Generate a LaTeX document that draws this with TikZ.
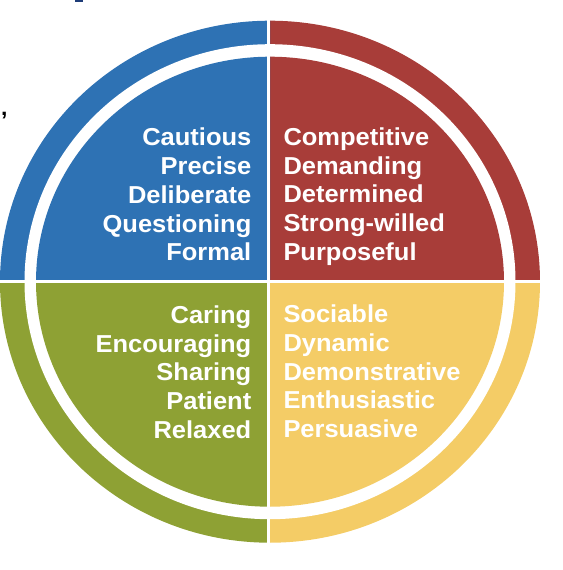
\documentclass[tikz,border=0pt]{standalone}
\usepackage{fontspec}
\setmainfont[FakeStretch=1.04]{Liberation Sans}
\usetikzlibrary{positioning}
\definecolor{qblue}{RGB}{46,114,180}
\definecolor{qred}{RGB}{168,61,57}
\definecolor{qgreen}{RGB}{142,161,52}
\definecolor{qyellow}{RGB}{244,204,102}
\definecolor{qnavy}{RGB}{30,60,120}
\newcommand{\qsector}[5]{%
  \fill[#1] (c) -- ++(#2:#4 and #5)
    arc[start angle=#2,end angle=#3,x radius=#4,y radius=#5] -- cycle;}
\tikzset{
  trait/.style={text=white,font=\fontsize{24.5}{28.75}\selectfont\bfseries,
                inner sep=0pt},
  traitl/.style={trait,align=right,anchor=base east},
  traitr/.style={trait,align=left,anchor=base west},
  gapline/.style={draw=white,line width=#1},
}

\begin{document}
\begin{tikzpicture}[x=1pt,y=-1pt]
  \useasboundingbox (0,0) rectangle (562,570);
  \coordinate (c) at (270,281.7);
  % outer ring
  \qsector{qred}{0}{90}{270pt}{261pt}
  \qsector{qblue}{90}{180}{270pt}{261pt}
  \qsector{qgreen}{180}{270}{270pt}{261pt}
  \qsector{qyellow}{270}{360}{270pt}{261pt}
  \fill[white] (c) ellipse[x radius=245.5pt,y radius=237.5pt];
  % inner disc
  \qsector{qred}{0}{90}{234pt}{225pt}
  \qsector{qblue}{90}{180}{234pt}{225pt}
  \qsector{qgreen}{180}{270}{234pt}{225pt}
  \qsector{qyellow}{270}{360}{234pt}{225pt}
  % cross gaps
  \coordinate (vtop) at (268.5,10);
  \coordinate (vbot) at (268.5,555);
  \coordinate (hleft) at (-5,281.7);
  \coordinate (hright) at (560,281.7);
  \draw[gapline=2.5pt] (vtop) -- (vbot);
  \draw[gapline=3pt] (hleft) -- (hright);
  % traits (anchored on the last line)
  \node[traitl] (blue) at (251.5,260.8)
    {Cautious\\Precise\\Deliberate\\Questioning\\Formal};
  \node[traitr] (red) at (283.3,260.3)
    {Competitive\\Demanding\\Determined\\Strong-willed\\Purposeful};
  \node[traitl] (green) at (251.5,438.3)
    {Caring\\Encouraging\\Sharing\\Patient\\Relaxed};
  \node[traitr] (yellow) at (283.3,437.5)
    {Sociable\\Dynamic\\Demonstrative\\Enthusiastic\\Persuasive};
  % cut-off bits at the edges
  \node[font=\fontsize{22}{22}\selectfont\bfseries,inner sep=0pt,
        anchor=base west] (comma) at (1,115.5) {,};
  \fill[qnavy] (75,0) rectangle (83,1.6);
\end{tikzpicture}
\end{document}
